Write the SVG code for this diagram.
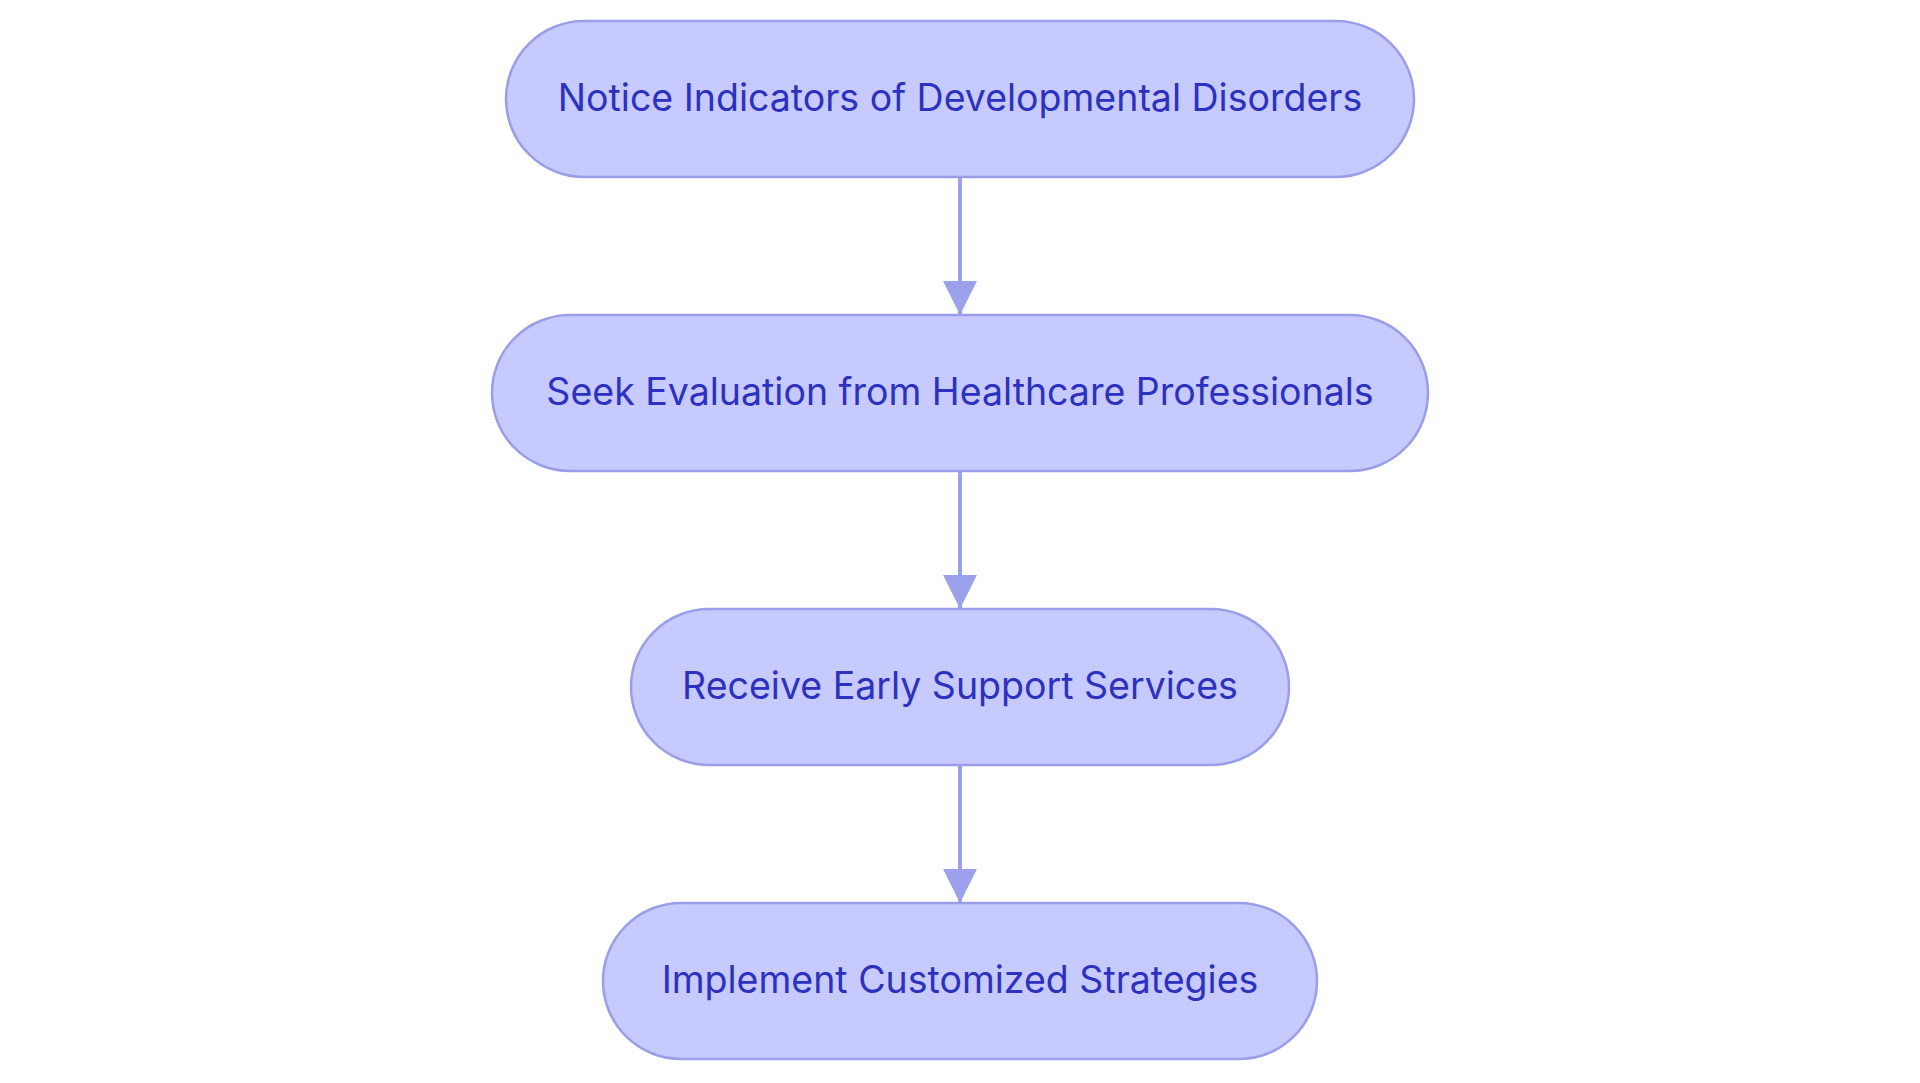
<svg xmlns="http://www.w3.org/2000/svg" width="1920" height="1083" viewBox="0 0 1920 1083">
<style>
.node rect{fill:#c7caff;stroke:#9a9ee8;stroke-width:2.5}
.node text{font-family:Inter,"Noto Sans",sans-serif;font-size:37.5px;fill:#2c31c0;text-anchor:middle;dominant-baseline:central}
.edge{stroke:#9ca1ec;stroke-width:4;fill:none}
</style>
<defs>
<marker id="arr" markerUnits="userSpaceOnUse" markerWidth="34" markerHeight="34" refX="33" refY="17" orient="auto">
<path d="M0,0 L34,17 L0,34 Z" fill="#9ca1ec"/>
</marker>
</defs>
<rect width="1920" height="1083" fill="#ffffff"/>
<g id="connectors">
<path class="edge" d="M960,178 L960,314" marker-end="url(#arr)"/>
<path class="edge" d="M960,472 L960,608" marker-end="url(#arr)"/>
<path class="edge" d="M960,766 L960,902" marker-end="url(#arr)"/>
</g>
<g id="n1" class="node">
<rect x="506" y="21" width="908" height="156" rx="78" ry="78"/>
<text x="960" y="97">Notice Indicators of Developmental Disorders</text>
</g>
<g id="n2" class="node">
<rect x="492" y="315" width="936" height="156" rx="78" ry="78"/>
<text x="960" y="391">Seek Evaluation from Healthcare Professionals</text>
</g>
<g id="n3" class="node">
<rect x="631" y="609" width="658" height="156" rx="78" ry="78"/>
<text x="960" y="685">Receive Early Support Services</text>
</g>
<g id="n4" class="node">
<rect x="603" y="903" width="714" height="156" rx="78" ry="78"/>
<text x="960" y="979">Implement Customized Strategies</text>
</g>
</svg>
